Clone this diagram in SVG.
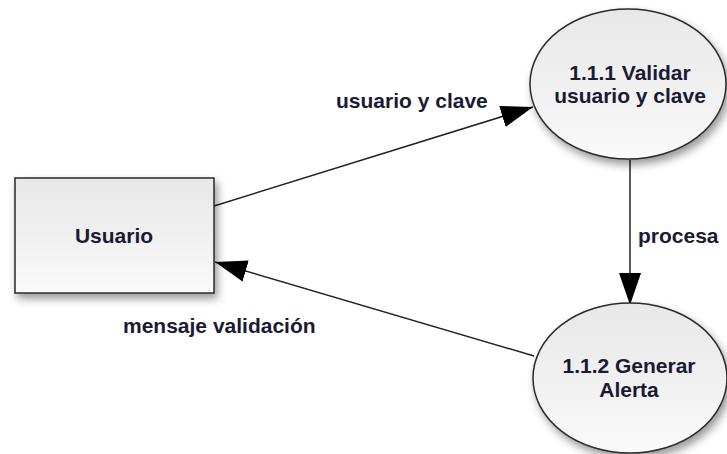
<svg xmlns="http://www.w3.org/2000/svg" width="727" height="454" viewBox="0 0 727 454">
  <style>
    .node { stroke: #2a2a2a; stroke-width: 1.5; fill: url(#g); filter: url(#sh); }
    .t { font-family: "Liberation Sans", Arial, sans-serif; font-weight: bold; font-size: 21px; fill: #1a1a33; }
    .c { text-anchor: middle; }
    .edge { stroke: #222; stroke-width: 1.5; fill: none; }
  </style>
  <defs>
    <linearGradient id="g" x1="0" y1="0" x2="0" y2="1">
      <stop offset="0" stop-color="#e8e8e8"/>
      <stop offset="0.5" stop-color="#f0f0f0"/>
      <stop offset="1" stop-color="#fafafa"/>
    </linearGradient>
    <filter id="sh" x="-20%" y="-20%" width="140%" height="150%">
      <feDropShadow dx="3" dy="5" stdDeviation="4" flood-color="#000" flood-opacity="0.4"/>
    </filter>
    <marker id="arr" markerUnits="userSpaceOnUse" markerWidth="34" markerHeight="24" refX="32" refY="11" orient="auto">
      <path d="M0,0 L32,11 L0,22 z" fill="#000"/>
    </marker>
  </defs>
  <rect width="727" height="454" fill="#fff"/>
  <g id="connectors">
    <line class="edge" x1="214" y1="206" x2="533" y2="107" marker-end="url(#arr)"/>
    <line class="edge" x1="630" y1="160" x2="630" y2="305" marker-end="url(#arr)"/>
    <line class="edge" x1="534" y1="356" x2="215" y2="262" marker-end="url(#arr)"/>
    <text class="t" x="336" y="108">usuario y clave</text>
    <text class="t" x="638" y="243">procesa</text>
    <text class="t" x="123" y="333">mensaje validación</text>
  </g>
  <g id="usuario">
    <rect class="node" x="15" y="178" width="199" height="115"/>
    <text class="t c" x="114" y="243">Usuario</text>
  </g>
  <g id="validar">
    <ellipse class="node" cx="628" cy="84" rx="98" ry="75"/>
    <text class="t c" x="630" y="80">1.1.1 Validar</text>
    <text class="t c" x="630" y="103">usuario y clave</text>
  </g>
  <g id="alerta">
    <ellipse class="node" cx="630" cy="378" rx="97" ry="75"/>
    <text class="t c" x="629" y="373">1.1.2 Generar</text>
    <text class="t c" x="629" y="397">Alerta</text>
  </g>
</svg>
